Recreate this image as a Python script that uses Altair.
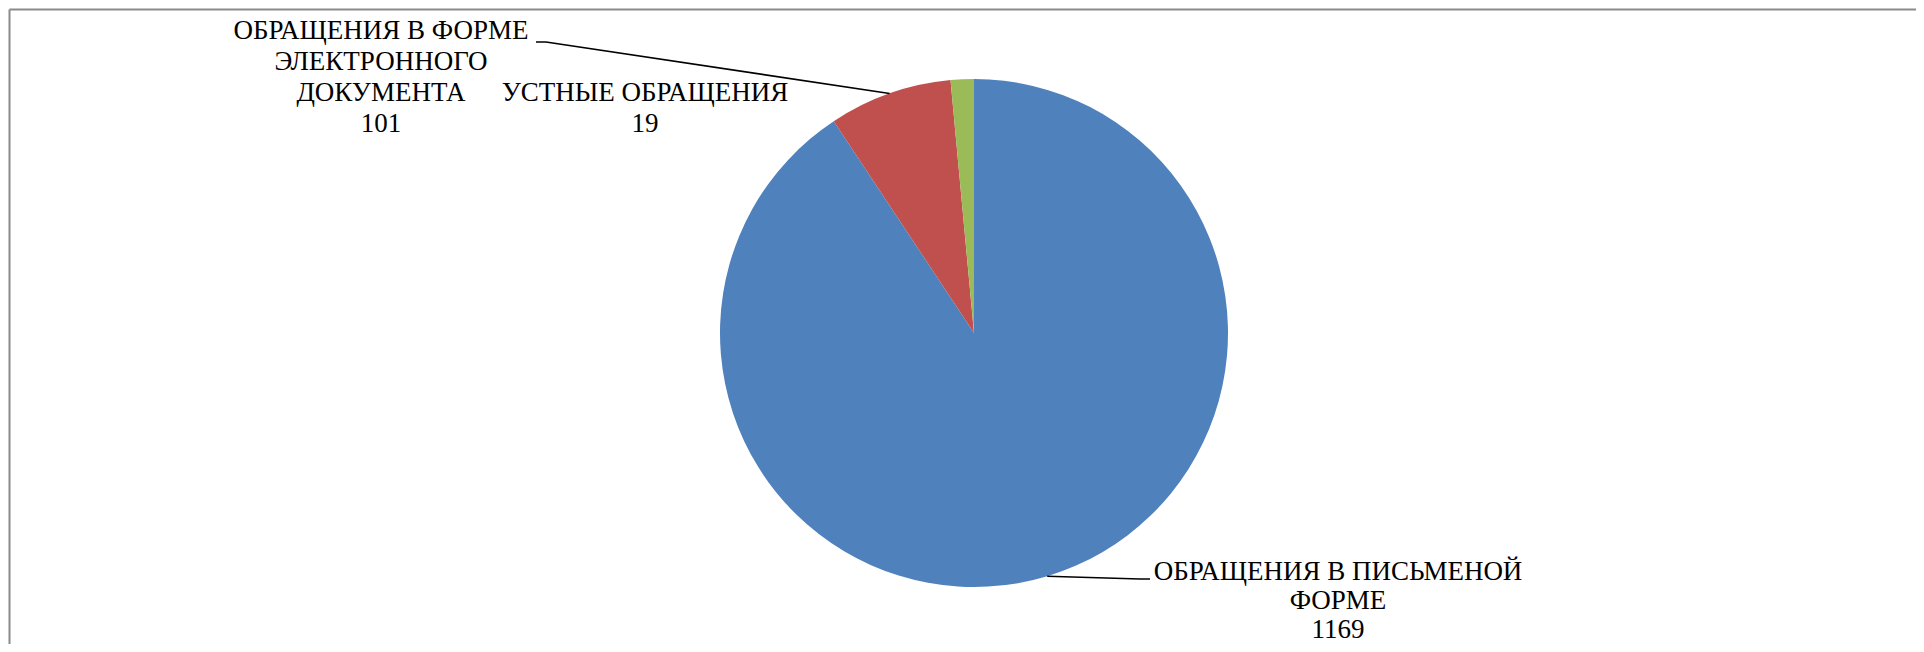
import altair as alt
import pandas as pd
import numpy as np

# ---- data ----
categories = [
    "ОБРАЩЕНИЯ В ПИСЬМЕНОЙ ФОРМЕ",
    "ОБРАЩЕНИЯ В ФОРМЕ ЭЛЕКТРОННОГО ДОКУМЕНТА",
    "УСТНЫЕ ОБРАЩЕНИЯ",
]
values = [1169, 101, 19]
colors = ["#4F81BD", "#C0504D", "#9BBB59"]

# ---- layout (pixels inside the view) ----
label_lines = [
    ["ОБРАЩЕНИЯ В ПИСЬМЕНОЙ", "ФОРМЕ"],
    ["ОБРАЩЕНИЯ В ФОРМЕ", "ЭЛЕКТРОННОГО", "ДОКУМЕНТА"],
    ["УСТНЫЕ ОБРАЩЕНИЯ"],
]
label_x = [1330, 373, 637]
label_y = [572, 31, 93]
line_heights = [29, 31, 31]
leader_anchor = [[(1132, 571), (1142, 571)], [(538, 34), (528, 34)], None]
W, H = 1908, 636
CX, CY, R = 966, 325, 254
FONT = "Liberation Serif, Times New Roman, DejaVu Serif, serif"

# ---- build tables ----
pie_df = pd.DataFrame({"category": categories, "value": values, "idx": range(len(values))})

total = float(sum(values))
cum = np.cumsum([0] + values[:-1])
mid_angles = [(c + v / 2.0) / total * 2 * np.pi for c, v in zip(cum, values)]

line_rows = []
for i, anchor in enumerate(leader_anchor):
    if anchor is None:
        continue
    a = mid_angles[i]
    pts = [(CX + R * np.sin(a), CY - R * np.cos(a))] + list(anchor)
    for k, (px, py) in enumerate(pts):
        line_rows.append({"lid": i, "k": k, "px": px, "py": py})
line_df = pd.DataFrame(line_rows)

text_rows = []
for i, (lines, v) in enumerate(zip(label_lines, values)):
    for j, t in enumerate(lines + [str(v)]):
        text_rows.append({"t": t, "lx": label_x[i], "ly": label_y[i] + j * line_heights[i]})
text_df = pd.DataFrame(text_rows)

# ---- marks ----
pie = alt.Chart(pie_df).mark_arc(outerRadius=R).encode(
    theta=alt.Theta("value:Q", stack=True),
    color=alt.Color("category:N", scale=alt.Scale(domain=categories, range=colors), legend=None),
    order=alt.Order("idx:Q", sort="ascending"),
    x=alt.value(CX),
    y=alt.value(CY),
)

leaders = alt.Chart(line_df).mark_line(color="black", strokeWidth=1.6).encode(
    x=alt.X("px:Q", scale=None, axis=None),
    y=alt.Y("py:Q", scale=None, axis=None),
    detail="lid:N",
    order="k:Q",
)

labels = alt.Chart(text_df).mark_text(
    font=FONT, fontSize=27, align="center", baseline="alphabetic", color="black",
).encode(
    x=alt.X("lx:Q", scale=None, axis=None),
    y=alt.Y("ly:Q", scale=None, axis=None),
    text="t:N",
)

one = alt.Data(values=[{"a": 1}])
border_left = alt.Chart(one).mark_rule(color="#8a8a8a", strokeWidth=2).encode(
    x=alt.value(1.5), y=alt.value(1.5), y2=alt.value(H + 20)
)
border_top = alt.Chart(one).mark_rule(color="#8a8a8a", strokeWidth=2).encode(
    x=alt.value(1.5), x2=alt.value(W + 20), y=alt.value(1.5)
)

chart = alt.layer(border_left, border_top, pie, leaders, labels).properties(
    width=W, height=H, padding=0, autosize=alt.AutoSizeParams(type="none"),
    background="white",
).configure_view(stroke=None)

chart.save("out.html", embed_options={"renderer": "svg", "actions": False})
